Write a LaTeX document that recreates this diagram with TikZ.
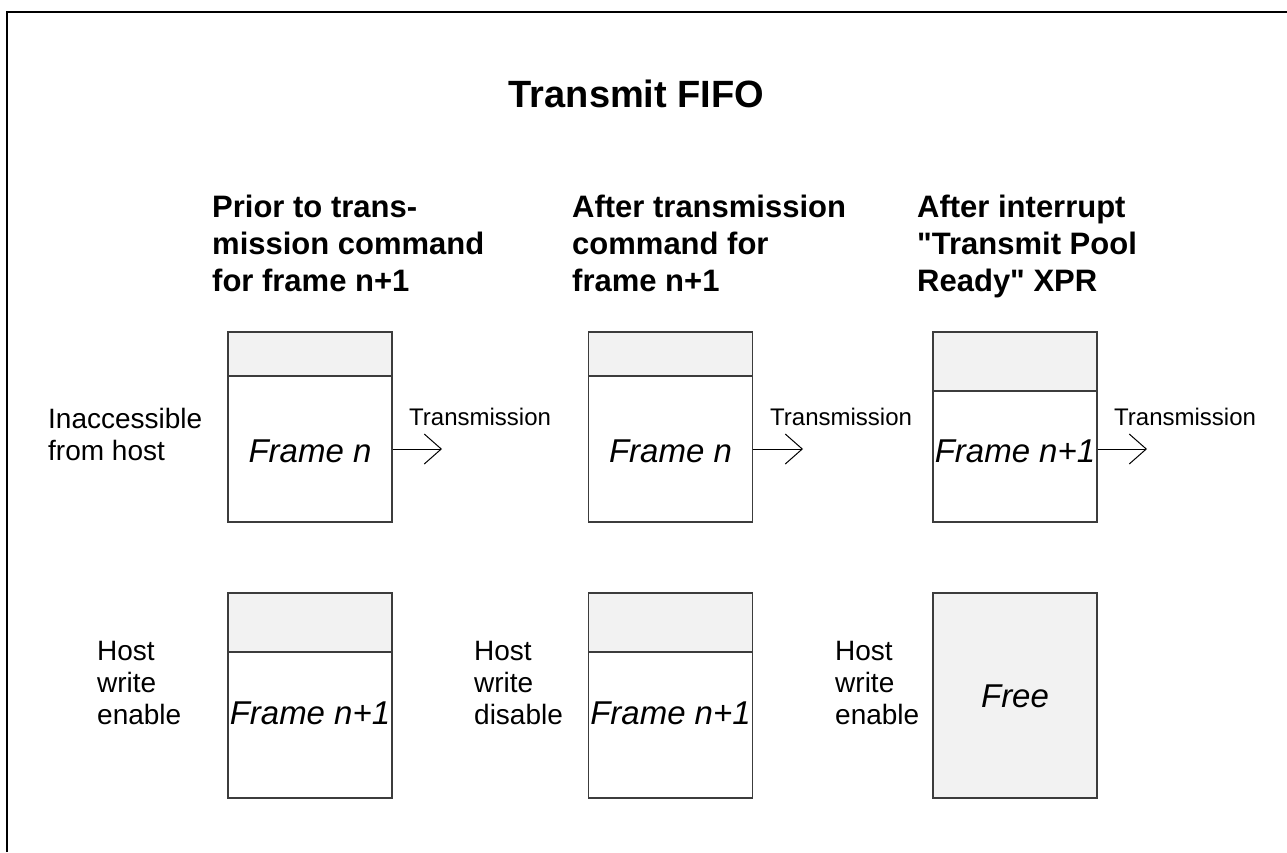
\documentclass[tikz,border=0pt]{standalone}
\usepackage{fontspec}
\setmainfont{Liberation Sans}
\usepackage{tikz}
\usetikzlibrary{arrows.meta}
\definecolor{bandgray}{HTML}{F2F2F2}
\definecolor{edgegray}{HTML}{3C3C3C}

\begin{document}
\begin{tikzpicture}[
		x=1pt, y=-1pt
		,every node/.append style={inner sep=0pt}
		,fifobox/.style={draw=edgegray, line width=1.3pt, minimum width=164pt}
		,band/.style={path picture={
			\fill[bandgray] (path picture bounding box.north west) rectangle ([yshift=-#1]path picture bounding box.north east);
			\draw[edgegray, line width=1.3pt] ([yshift=-#1]path picture bounding box.north west) -- ([yshift=-#1]path picture bounding box.north east);
		}}
		,hdr/.style={font=\bfseries\fontsize{31}{37}\selectfont, align=left, anchor=base west}
		,side/.style={font=\fontsize{28}{32}\selectfont, align=left, anchor=base west}
		,fr/.style={font=\itshape\fontsize{33}{38}\selectfont, anchor=base}
		,tx/.style={font=\fontsize{24}{27}\selectfont, anchor=base west}
		,txarrow/.style={line width=1pt, -{Straight Barb[length=17pt, width=30pt, line width=1pt]}}
	]
		\useasboundingbox (0,0) rectangle (1287,852);
		\draw[line width=2.5pt] (7,852) -- (7,12) -- (1287,12);

		\node [font=\bfseries\fontsize{38}{44}\selectfont, anchor=base] (T) at (636.5,107) {Transmit FIFO};

		% base anchor sits on the last line
		\node [hdr] (H1) at (212,291) {Prior to trans-\\mission command\\for frame n+1};
		\node [hdr] (H2) at (572,291) {After transmission\\command for\\frame n+1};
		\node [hdr] (H3) at (917,291) {After interrupt\\\textquotedbl Transmit Pool\\Ready\textquotedbl{} XPR};

		% top row
		\node [fifobox, minimum height=190pt, band=44pt] (A1) at (310,427) {};
		\node [fifobox, minimum height=190pt, band=44pt] (A2) at (670.5,427) {};
		\node [fifobox, minimum height=190pt, band=59pt] (A3) at (1015,427) {};
		% bottom row
		\node [fifobox, minimum height=205pt, band=59pt] (B1) at (310,695.5) {};
		\node [fifobox, minimum height=205pt, band=59pt] (B2) at (670.5,695.5) {};
		\node [fifobox, minimum height=205pt, fill=bandgray] (B3) at (1015,695.5) {};

		\node [fr] (FA1) at (310,462) {Frame n};
		\node [fr] (FA2) at (670.5,462) {Frame n};
		\node [fr] (FA3) at (1015,462) {Frame n+1};
		\node [fr] (FB1) at (310,724) {Frame n+1};
		\node [fr] (FB2) at (670.5,724) {Frame n+1};
		\node [fr] (FB3) at (1015,707) {Free};

		\node [side] (L1) at (48,460) {Inaccessible\\from host};
		\node [side] (L2) at (97,724) {Host\\write\\enable};
		\node [side] (L3) at (474,724) {Host\\write\\disable};
		\node [side] (L4) at (835,724) {Host\\write\\enable};

		\node [tx] (X1) at (409,425) {Transmission};
		\node [tx] (X2) at (770,425) {Transmission};
		\node [tx] (X3) at (1114,425) {Transmission};
		\coordinate (E1) at (442,449);
		\coordinate (E2) at (803,449);
		\coordinate (E3) at (1147,449);
		\draw [txarrow] (A1.east |- E1) -- (E1);
		\draw [txarrow] (A2.east |- E2) -- (E2);
		\draw [txarrow] (A3.east |- E3) -- (E3);
	\end{tikzpicture}
\end{document}
